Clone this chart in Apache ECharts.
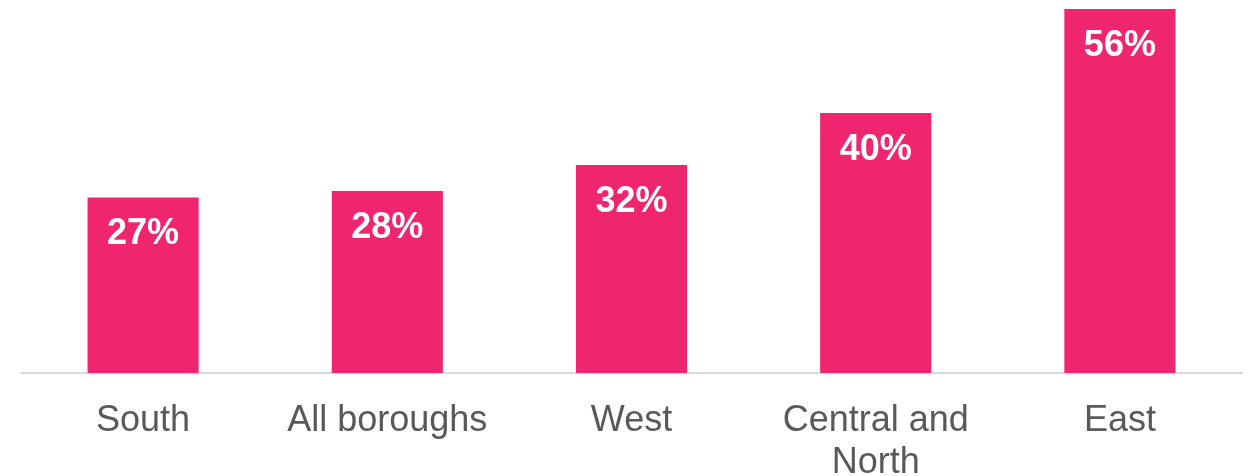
<!DOCTYPE html>
<html>
<head>
<meta charset="utf-8">
<script src="https://cdn.jsdelivr.net/npm/echarts@6/dist/echarts.min.js"></script>
<style>
  html, body { margin: 0; padding: 0; background: #fff; }
  #chart { width: 1253px; height: 476px; }
</style>
</head>
<body>
<div id="chart"></div>
<script>
  var regions = ['South', 'All boroughs', 'West', 'Central and\nNorth', 'East'];
  var shares = [27, 28, 32, 40, 56];

  var chart = echarts.init(document.getElementById('chart'));
  chart.setOption({
    animation: false,
    grid: { left: 21, right: 11, top: 9, bottom: 103, outerBoundsMode: 'none', containLabel: false },
    xAxis: {
      type: 'category',
      data: regions,
      axisTick: { show: false },
      axisLine: { lineStyle: { color: '#d9d9d9', width: 2 } },
      axisLabel: {
        color: '#595959',
        fontFamily: 'Liberation Sans, Arial, sans-serif',
        fontSize: 36,
        lineHeight: 42,
        margin: 27,
        interval: 0
      }
    },
    yAxis: {
      type: 'value',
      min: 0,
      max: 56,
      show: false,
      splitLine: { show: false }
    },
    series: [{
      type: 'bar',
      data: shares,
      barWidth: '45.5%',
      itemStyle: { color: '#ef266f' },
      label: {
        show: true,
        position: 'insideTop',
        distance: 19,
        color: '#fff',
        fontWeight: 'bold',
        fontFamily: 'Liberation Sans, Arial, sans-serif',
        fontSize: 36,
        formatter: '{c}%'
      }
    }]
  });
</script>
</body>
</html>
